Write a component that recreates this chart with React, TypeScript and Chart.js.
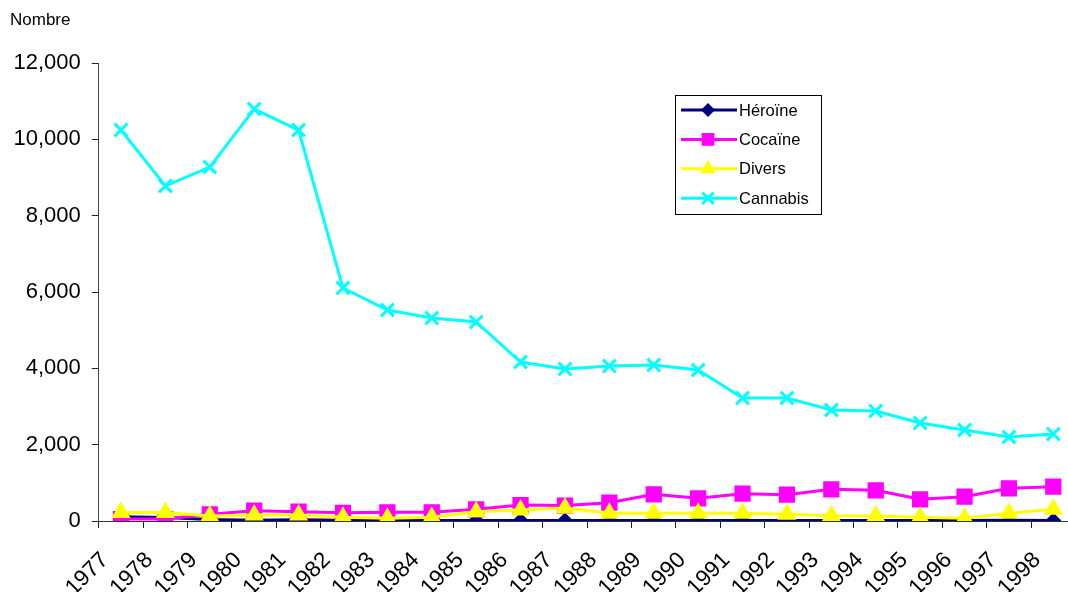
import React, { useEffect, useRef } from "react";
import { Chart, registerables } from "chart.js";

Chart.register(...registerables);

const years = ["1977","1978","1979","1980","1981","1982","1983","1984","1985","1986","1987","1988","1989","1990","1991","1992","1993","1994","1995","1996","1997","1998"];
const heroine = [110, 90, 40, 20, 30, 20, 15, 15, 10, 10, 15, 10, 10, 10, 10, 10, 10, 10, 10, 15, 20, 15];
const cocaine = [50, 50, 175, 270, 245, 215, 228, 228, 306, 419, 405, 480, 699, 594, 716, 690, 830, 804, 568, 637, 856, 899];
const divers = [220, 220, 130, 157, 157, 96, 70, 96, 245, 288, 340, 201, 201, 201, 201, 175, 140, 131, 96, 70, 201, 306];
const cannabis = [10244, 8777, 9274, 10794, 10244, 6104, 5528, 5318, 5214, 4166, 3982, 4061, 4087, 3956, 3222, 3222, 2908, 2882, 2567, 2384, 2200, 2279];
const yTicks = [0, 2000, 4000, 6000, 8000, 10000, 12000];

const seriesNames = ["Héroïne", "Cocaïne", "Divers", "Cannabis"];
const seriesColors = ["#000080", "#FF00FF", "#FFFF00", "#00FFFF"];
const seriesStyles = ["rectRot", "rect", "triangle", "crossRot"];
const seriesRadius = [8, 11.5, 11, 9];
const legendRadius = [7, 9, 9, 8];

const FONT = "'Liberation Sans', Arial, sans-serif";

function drawMarker(ctx: CanvasRenderingContext2D, style: string, x: number, y: number, r: number, color: string) {
  ctx.save();
  ctx.fillStyle = color;
  ctx.strokeStyle = color;
  ctx.lineWidth = 3;
  ctx.beginPath();
  if (style === "rect") {
    const s = Math.SQRT1_2 * r;
    ctx.rect(x - s, y - s, 2 * s, 2 * s);
    ctx.fill();
  } else if (style === "rectRot") {
    ctx.moveTo(x, y - r);
    ctx.lineTo(x + r, y);
    ctx.lineTo(x, y + r);
    ctx.lineTo(x - r, y);
    ctx.closePath();
    ctx.fill();
  } else if (style === "triangle") {
    ctx.moveTo(x, y - r);
    ctx.lineTo(x + r * Math.sin(2 * Math.PI / 3), y + r * 0.5);
    ctx.lineTo(x - r * Math.sin(2 * Math.PI / 3), y + r * 0.5);
    ctx.closePath();
    ctx.fill();
  } else {
    const s = Math.SQRT1_2 * r;
    ctx.moveTo(x - s, y - s);
    ctx.lineTo(x + s, y + s);
    ctx.moveTo(x + s, y - s);
    ctx.lineTo(x - s, y + s);
    ctx.stroke();
  }
  ctx.restore();
}

const legendPlugin = {
  id: "customLegend",
  afterDraw(chart: any) {
    const ctx: CanvasRenderingContext2D = chart.ctx;
    ctx.save();
    const bx = 675, by = 95, bw = 146, bh = 119;
    ctx.strokeStyle = "#000";
    ctx.lineWidth = 1;
    ctx.strokeRect(bx + 0.5, by + 0.5, bw, bh);
    ctx.font = `16.5px ${FONT}`;
    ctx.textBaseline = "middle";
    ctx.textAlign = "left";
    for (let i = 0; i < seriesNames.length; i++) {
      const y = 110 + i * 29.4;
      ctx.strokeStyle = seriesColors[i];
      ctx.lineWidth = 3;
      ctx.beginPath();
      ctx.moveTo(681, y);
      ctx.lineTo(737, y);
      ctx.stroke();
      drawMarker(ctx, seriesStyles[i], 708, y, legendRadius[i], seriesColors[i]);
      ctx.fillStyle = "#000";
      ctx.fillText(seriesNames[i], 739, y + 1);
    }
    ctx.font = `17px ${FONT}`;
    ctx.fillText("Nombre", 10, 20);
    ctx.restore();
  },
};

export default function App() {
  const ref = useRef<HTMLCanvasElement>(null);
  useEffect(() => {
    if (!ref.current) return;
    const data = [heroine, cocaine, divers, cannabis];
    const chart = new Chart(ref.current, {
      type: "line",
      data: {
        labels: years,
        datasets: seriesNames.map((name, i) => ({
          label: name,
          data: data[i],
          borderColor: seriesColors[i],
          backgroundColor: seriesColors[i],
          pointBackgroundColor: seriesColors[i],
          pointBorderColor: seriesColors[i],
          pointStyle: seriesStyles[i] as any,
          pointRadius: seriesRadius[i],
          pointBorderWidth: i === 3 ? 3 : 0,
          borderWidth: 3,
          tension: 0,
          order: 4 - i,
        })),
      },
      options: {
        animation: false,
        responsive: false,
        layout: { padding: { left: 0, top: 63, right: 24.5, bottom: 0 } },
        plugins: { legend: { display: false }, tooltip: { enabled: false } },
        scales: {
          x: {
            offset: true,
            grid: { display: true, drawOnChartArea: false, offset: true, tickLength: 7, color: "#222" },
            border: { color: "#333", width: 1 },
            ticks: { color: "#000", font: { family: FONT, size: 22.5 }, minRotation: 45, maxRotation: 45, padding: 19, labelOffset: -16, autoSkip: false },
            afterFit: (s: any) => { s.height = 71; },
          },
          y: {
            min: 0,
            max: 12000,
            afterBuildTicks: (s: any) => { s.ticks = yTicks.map((v) => ({ value: v })); },
            grid: { display: true, drawOnChartArea: false, tickLength: 7, color: "#222" },
            border: { color: "#444", width: 1 },
            ticks: {
              color: "#000",
              font: { family: FONT, size: 22 },
              padding: 11,
              callback: (v: any) => Number(v).toLocaleString("en-US"),
            },
            afterFit: (s: any) => { s.width = 98.8; },
          },
        },
      },
      plugins: [legendPlugin],
    });
    return () => chart.destroy();
  }, []);
  return (
    <div style={{ position: "fixed", left: 0, top: 0, width: 1068, height: 592, overflow: "hidden", background: "#fff" }}>
      <canvas ref={ref} width={1100} height={592} style={{ display: "block" }} />
    </div>
  );
}
